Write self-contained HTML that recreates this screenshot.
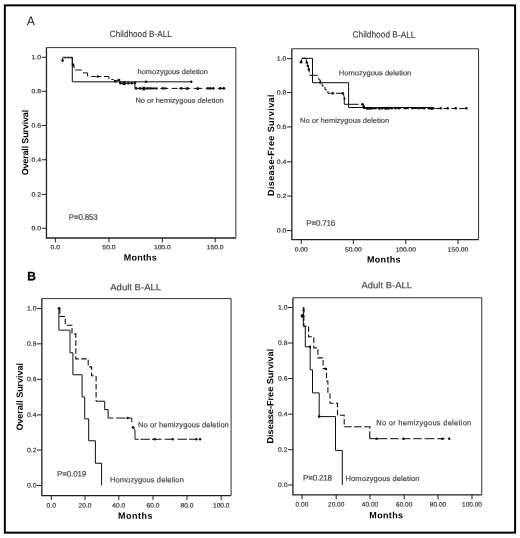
<!DOCTYPE html>
<html lang="en"><head><meta charset="utf-8"><title>Figure</title>
<style>html,body{margin:0;padding:0;background:#fff;}body{width:520px;height:538px;overflow:hidden;}svg{display:block;}</style>
</head><body>
<svg width="520" height="538" viewBox="0 0 520 538" font-family="'Liberation Sans', sans-serif">
<rect width="520" height="538" fill="#fff"/>
<defs><filter id="soft" x="0" y="0" width="520" height="538" filterUnits="userSpaceOnUse"><feGaussianBlur stdDeviation="0.45"/></filter></defs>
<g filter="url(#soft)">
<rect x="4.85" y="5.35" width="510.25" height="527.3" fill="none" stroke="#000" stroke-width="2"/>
<text x="26.7" y="25.25" font-size="12.7" fill="#222" textLength="8.2" lengthAdjust="spacingAndGlyphs" transform="rotate(0.04 26.7 25.25)">A</text>
<text x="27.2" y="280.2" font-size="12" fill="#000" font-weight="bold" stroke="#000" stroke-width="0.3" transform="rotate(0.04 27.2 280.2)">B</text>
<path d="M46.45 47.6V238.0H235.85" fill="none" stroke="#222" stroke-width="1.3"/>
<path d="M46.45 47.6H235.85V238.0" fill="none" stroke="#333" stroke-width="1"/>
<path d="M41.65 57.25H46.45" stroke="#222" stroke-width="1"/>
<text x="41.05" y="59.2" font-size="6.0" fill="#3a3a3a" text-anchor="end" textLength="9.63" lengthAdjust="spacingAndGlyphs" stroke="#3a3a3a" stroke-width="0.2" transform="rotate(0.04 41.05 59.2)">1.0</text>
<path d="M41.65 91.25H46.45" stroke="#222" stroke-width="1"/>
<text x="41.05" y="93.2" font-size="6.0" fill="#3a3a3a" text-anchor="end" textLength="9.63" lengthAdjust="spacingAndGlyphs" stroke="#3a3a3a" stroke-width="0.2" transform="rotate(0.04 41.05 93.2)">0.8</text>
<path d="M41.65 125.45H46.45" stroke="#222" stroke-width="1"/>
<text x="41.05" y="127.4" font-size="6.0" fill="#3a3a3a" text-anchor="end" textLength="9.63" lengthAdjust="spacingAndGlyphs" stroke="#3a3a3a" stroke-width="0.2" transform="rotate(0.04 41.05 127.4)">0.6</text>
<path d="M41.65 159.75H46.45" stroke="#222" stroke-width="1"/>
<text x="41.05" y="161.7" font-size="6.0" fill="#3a3a3a" text-anchor="end" textLength="9.63" lengthAdjust="spacingAndGlyphs" stroke="#3a3a3a" stroke-width="0.2" transform="rotate(0.04 41.05 161.7)">0.4</text>
<path d="M41.65 194.45H46.45" stroke="#222" stroke-width="1"/>
<text x="41.05" y="196.4" font-size="6.0" fill="#3a3a3a" text-anchor="end" textLength="9.63" lengthAdjust="spacingAndGlyphs" stroke="#3a3a3a" stroke-width="0.2" transform="rotate(0.04 41.05 196.4)">0.2</text>
<path d="M41.65 228.25H46.45" stroke="#222" stroke-width="1"/>
<text x="41.05" y="230.2" font-size="6.0" fill="#3a3a3a" text-anchor="end" textLength="9.63" lengthAdjust="spacingAndGlyphs" stroke="#3a3a3a" stroke-width="0.2" transform="rotate(0.04 41.05 230.2)">0.0</text>
<path d="M55.4 238.0V242.4" stroke="#222" stroke-width="1"/>
<text x="55.4" y="249.25" font-size="6.0" fill="#3a3a3a" text-anchor="middle" textLength="9.63" lengthAdjust="spacingAndGlyphs" stroke="#3a3a3a" stroke-width="0.2" transform="rotate(0.04 55.4 249.25)">0.0</text>
<path d="M109.0 238.0V242.4" stroke="#222" stroke-width="1"/>
<text x="109.0" y="249.25" font-size="6.0" fill="#3a3a3a" text-anchor="middle" textLength="13.23" lengthAdjust="spacingAndGlyphs" stroke="#3a3a3a" stroke-width="0.2" transform="rotate(0.04 109.0 249.25)">50.0</text>
<path d="M162.3 238.0V242.4" stroke="#222" stroke-width="1"/>
<text x="162.3" y="249.25" font-size="6.0" fill="#3a3a3a" text-anchor="middle" textLength="16.69" lengthAdjust="spacingAndGlyphs" stroke="#3a3a3a" stroke-width="0.2" transform="rotate(0.04 162.3 249.25)">100.0</text>
<path d="M215.2 238.0V242.4" stroke="#222" stroke-width="1"/>
<text x="215.2" y="249.25" font-size="6.0" fill="#3a3a3a" text-anchor="middle" textLength="16.69" lengthAdjust="spacingAndGlyphs" stroke="#3a3a3a" stroke-width="0.2" transform="rotate(0.04 215.2 249.25)">150.0</text>
<text x="109.8" y="36.9" font-size="9.1" fill="#3c3c3c" textLength="62" lengthAdjust="spacingAndGlyphs" stroke="#3c3c3c" stroke-width="0.12" transform="rotate(0.04 109.8 36.9)">Childhood B-ALL</text>
<text x="28.2" y="175.3" font-size="9" fill="#000" font-weight="bold" textLength="65.5" lengthAdjust="spacing" transform="rotate(-89.96 28.2 175.3)">Overall Survival</text>
<text x="123.8" y="260.4" font-size="9" fill="#000" font-weight="bold" textLength="33" lengthAdjust="spacing" transform="rotate(0.04 123.8 260.4)">Months</text>
<text x="68.8" y="219.8" font-size="8" fill="#3c3c3c" textLength="28.8" lengthAdjust="spacing" stroke="#3c3c3c" stroke-width="0.15" transform="rotate(0.04 68.8 219.8)">P=0.853</text>
<text x="137.6" y="74" font-size="7" fill="#454545" textLength="70.3" lengthAdjust="spacingAndGlyphs" stroke="#454545" stroke-width="0.18" transform="rotate(0.04 137.6 74)">homozygous deletion</text>
<text x="135.4" y="102.7" font-size="7" fill="#454545" textLength="88.3" lengthAdjust="spacingAndGlyphs" stroke="#454545" stroke-width="0.18" transform="rotate(0.04 135.4 102.7)">No or hemizygous deletion</text>
<g transform="translate(0.3 0.3)">
<path d="M62.3 57H72V81.5H191" fill="none" stroke="#111" stroke-width="1"/>
<path d="M62.3 60V57.6 M63.5 57.6H65.5 M67 57.6H69 M70 57.6H72" fill="none" stroke="#111" stroke-width="1"/>
<path d="M72 57V66" fill="none" stroke="#111" stroke-width="1"/>
<path d="M72.5 62.5L74 68" fill="none" stroke="#111" stroke-width="1"/>
<path d="M74.8 69.7H81.6 M82.5 72.6H87.3V76.2 M91 76.2H95.5 M96.5 76.2H101 M103.5 76.2H108.6V78.8 M111 79.2H113L115 81L118.5 79.2H119.5V82.9H134.6V88.1" fill="none" stroke="#111" stroke-width="1"/>
<path d="M134.6 88.1H157.5 M160 88.1H168 M171.3 88.1H177.5 M178.8 88.1H190 M193.5 88.1H202 M205.5 88.1H214 M217.5 88.1H225" fill="none" stroke="#111" stroke-width="1"/>
<circle cx="62.3" cy="60.3" r="1.3" fill="#111"/>
<circle cx="73" cy="65" r="1.2" fill="#111"/>
<circle cx="97.5" cy="76.2" r="1.3" fill="#111"/>
<circle cx="115" cy="81" r="1.4" fill="#111"/>
<circle cx="118.5" cy="79.6" r="1.2" fill="#111"/>
<circle cx="120.2" cy="82.9" r="1.3" fill="#111"/>
<circle cx="123.9" cy="82.9" r="2" fill="#111"/>
<circle cx="128" cy="82.9" r="1.3" fill="#111"/>
<circle cx="131.4" cy="82.9" r="1.2" fill="#111"/>
<circle cx="134.6" cy="82.5" r="1.4" fill="#111"/>
<circle cx="145.6" cy="81.5" r="1.2" fill="#111"/>
<circle cx="191" cy="81.5" r="1.2" fill="#111"/>
<circle cx="135.8" cy="88.1" r="1.4" fill="#111"/>
<circle cx="139.8" cy="88.1" r="1.3" fill="#111"/>
<circle cx="143.5" cy="88.1" r="2" fill="#111"/>
<circle cx="147.3" cy="88.1" r="1.4" fill="#111"/>
<circle cx="150.2" cy="88.1" r="1.3" fill="#111"/>
<circle cx="153" cy="88.1" r="1.2" fill="#111"/>
<circle cx="156" cy="88.1" r="1.2" fill="#111"/>
<circle cx="162.5" cy="88.1" r="1.3" fill="#111"/>
<circle cx="165" cy="88.1" r="1.1" fill="#111"/>
<circle cx="181" cy="88.1" r="1.3" fill="#111"/>
<circle cx="187" cy="88.1" r="1.5" fill="#111"/>
<circle cx="197.5" cy="88.1" r="1.5" fill="#111"/>
<circle cx="207.5" cy="88.1" r="1.3" fill="#111"/>
<circle cx="210" cy="88.1" r="1.3" fill="#111"/>
<circle cx="213" cy="88.1" r="1.3" fill="#111"/>
<circle cx="220" cy="88.1" r="1.4" fill="#111"/>
<circle cx="223.5" cy="88.1" r="1.3" fill="#111"/>
</g>
<path d="M291.85 48.75V239.65H478.55" fill="none" stroke="#222" stroke-width="1.3"/>
<path d="M291.85 48.75H478.55V239.65" fill="none" stroke="#333" stroke-width="1"/>
<path d="M287.05 58.6H291.85" stroke="#222" stroke-width="1"/>
<text x="286.45" y="60.55" font-size="6.0" fill="#3a3a3a" text-anchor="end" textLength="9.63" lengthAdjust="spacingAndGlyphs" stroke="#3a3a3a" stroke-width="0.2" transform="rotate(0.04 286.45 60.55)">1.0</text>
<path d="M287.05 92.6H291.85" stroke="#222" stroke-width="1"/>
<text x="286.45" y="94.55" font-size="6.0" fill="#3a3a3a" text-anchor="end" textLength="9.63" lengthAdjust="spacingAndGlyphs" stroke="#3a3a3a" stroke-width="0.2" transform="rotate(0.04 286.45 94.55)">0.8</text>
<path d="M287.05 126.9H291.85" stroke="#222" stroke-width="1"/>
<text x="286.45" y="128.85" font-size="6.0" fill="#3a3a3a" text-anchor="end" textLength="9.63" lengthAdjust="spacingAndGlyphs" stroke="#3a3a3a" stroke-width="0.2" transform="rotate(0.04 286.45 128.85)">0.6</text>
<path d="M287.05 161.8H291.85" stroke="#222" stroke-width="1"/>
<text x="286.45" y="163.75" font-size="6.0" fill="#3a3a3a" text-anchor="end" textLength="9.63" lengthAdjust="spacingAndGlyphs" stroke="#3a3a3a" stroke-width="0.2" transform="rotate(0.04 286.45 163.75)">0.4</text>
<path d="M287.05 196.1H291.85" stroke="#222" stroke-width="1"/>
<text x="286.45" y="198.05" font-size="6.0" fill="#3a3a3a" text-anchor="end" textLength="9.63" lengthAdjust="spacingAndGlyphs" stroke="#3a3a3a" stroke-width="0.2" transform="rotate(0.04 286.45 198.05)">0.2</text>
<path d="M287.05 230.6H291.85" stroke="#222" stroke-width="1"/>
<text x="286.45" y="232.55" font-size="6.0" fill="#3a3a3a" text-anchor="end" textLength="9.63" lengthAdjust="spacingAndGlyphs" stroke="#3a3a3a" stroke-width="0.2" transform="rotate(0.04 286.45 232.55)">0.0</text>
<path d="M301.3 239.65V244.05" stroke="#222" stroke-width="1"/>
<text x="301.3" y="251.6" font-size="6.0" fill="#3a3a3a" text-anchor="middle" textLength="13.23" lengthAdjust="spacingAndGlyphs" stroke="#3a3a3a" stroke-width="0.2" transform="rotate(0.04 301.3 251.6)">0.00</text>
<path d="M353.3 239.65V244.05" stroke="#222" stroke-width="1"/>
<text x="353.3" y="251.6" font-size="6.0" fill="#3a3a3a" text-anchor="middle" textLength="16.69" lengthAdjust="spacingAndGlyphs" stroke="#3a3a3a" stroke-width="0.2" transform="rotate(0.04 353.3 251.6)">50.00</text>
<path d="M405.8 239.65V244.05" stroke="#222" stroke-width="1"/>
<text x="405.8" y="251.6" font-size="6.0" fill="#3a3a3a" text-anchor="middle" textLength="20.35" lengthAdjust="spacingAndGlyphs" stroke="#3a3a3a" stroke-width="0.2" transform="rotate(0.04 405.8 251.6)">100.00</text>
<path d="M458 239.65V244.05" stroke="#222" stroke-width="1"/>
<text x="458" y="251.6" font-size="6.0" fill="#3a3a3a" text-anchor="middle" textLength="20.35" lengthAdjust="spacingAndGlyphs" stroke="#3a3a3a" stroke-width="0.2" transform="rotate(0.04 458 251.6)">150.00</text>
<text x="352.5" y="37.6" font-size="9.1" fill="#3c3c3c" textLength="63" lengthAdjust="spacingAndGlyphs" stroke="#3c3c3c" stroke-width="0.12" transform="rotate(0.04 352.5 37.6)">Childhood B-ALL</text>
<text x="273.9" y="196" font-size="9" fill="#000" font-weight="bold" textLength="101.5" lengthAdjust="spacing" transform="rotate(-89.96 273.9 196)">Disease-Free Survival</text>
<text x="367" y="262.4" font-size="9" fill="#000" font-weight="bold" textLength="33.5" lengthAdjust="spacing" transform="rotate(0.04 367 262.4)">Months</text>
<text x="306.3" y="225.8" font-size="8" fill="#3c3c3c" textLength="29" lengthAdjust="spacing" stroke="#3c3c3c" stroke-width="0.15" transform="rotate(0.04 306.3 225.8)">P=0.716</text>
<text x="338.8" y="75.2" font-size="7" fill="#454545" textLength="72.5" lengthAdjust="spacingAndGlyphs" stroke="#454545" stroke-width="0.18" transform="rotate(0.04 338.8 75.2)">Homozygous deletion</text>
<text x="300" y="122.7" font-size="7" fill="#454545" textLength="89.2" lengthAdjust="spacingAndGlyphs" stroke="#454545" stroke-width="0.18" transform="rotate(0.04 300 122.7)">No or hemizygous deletion</text>
<g transform="translate(0.3 0.5)">
<path d="M301.6 57.8H312.2V82.2H348.3V107H433" fill="none" stroke="#111" stroke-width="1"/>
<path d="M300.7 61.5L302 57.8H305.5L306.5 62L308.5 68L309 72" fill="none" stroke="#111" stroke-width="1"/>
<path d="M309 74.8H317.3 M318.5 77.2V79.4H320V81.7 M321.8 83V85.5H323.5 M324.7 86.5V89.3H326.5 M327.6 90.5V92.8H330.5 M335.5 92.8H342.4 M343 93L344 97V103.8H358.3 M363 103.8V108" fill="none" stroke="#111" stroke-width="1"/>
<path d="M363 108H467" fill="none" stroke="#111" stroke-width="1.1" stroke-dasharray="5.5 2.5"/>
<circle cx="300.7" cy="61.5" r="1.5" fill="#111"/>
<circle cx="306.5" cy="62" r="1.2" fill="#111"/>
<circle cx="307.5" cy="65.5" r="1.2" fill="#111"/>
<circle cx="308.5" cy="69" r="1.2" fill="#111"/>
<circle cx="320" cy="82" r="1.2" fill="#111"/>
<circle cx="332.4" cy="92.8" r="1.4" fill="#111"/>
<circle cx="342.4" cy="92.8" r="1.3" fill="#111"/>
<circle cx="344.2" cy="98" r="1.1" fill="#111"/>
<circle cx="362.2" cy="103.8" r="1.4" fill="#111"/>
<circle cx="363.5" cy="106" r="1.2" fill="#111"/>
<circle cx="367" cy="107.8" r="1.5" fill="#111"/>
<circle cx="369.5" cy="107.8" r="1.6" fill="#111"/>
<circle cx="372" cy="107.8" r="1.4" fill="#111"/>
<circle cx="375" cy="107.8" r="1.3" fill="#111"/>
<circle cx="379" cy="107.8" r="1.5" fill="#111"/>
<circle cx="382" cy="107.8" r="1.3" fill="#111"/>
<circle cx="385.5" cy="107.8" r="1.6" fill="#111"/>
<circle cx="388" cy="107.8" r="1.5" fill="#111"/>
<circle cx="391.5" cy="107.8" r="1.3" fill="#111"/>
<circle cx="395" cy="107.8" r="1.3" fill="#111"/>
<circle cx="399" cy="107.8" r="1.2" fill="#111"/>
<circle cx="405" cy="107.8" r="1.3" fill="#111"/>
<circle cx="412" cy="107.8" r="1.2" fill="#111"/>
<circle cx="418" cy="107.8" r="1.2" fill="#111"/>
<circle cx="424" cy="107.8" r="1.3" fill="#111"/>
<circle cx="429" cy="107.8" r="1.4" fill="#111"/>
<circle cx="431.5" cy="107.8" r="1.6" fill="#111"/>
<circle cx="433" cy="107.8" r="1.3" fill="#111"/>
<circle cx="440.3" cy="107.8" r="1.3" fill="#111"/>
<circle cx="447.3" cy="107.8" r="1.3" fill="#111"/>
<circle cx="455.4" cy="107.8" r="1.3" fill="#111"/>
<circle cx="466" cy="107.8" r="1.3" fill="#111"/>
</g>
<path d="M41.85 298.6V495.6H231.1" fill="none" stroke="#222" stroke-width="1.3"/>
<path d="M41.85 298.6H231.1V495.6" fill="none" stroke="#333" stroke-width="1"/>
<path d="M37.05 308.5H41.85" stroke="#222" stroke-width="1"/>
<text x="36.45" y="310.56" font-size="6.3" fill="#3a3a3a" text-anchor="end" textLength="9.45" lengthAdjust="spacingAndGlyphs" stroke="#3a3a3a" stroke-width="0.2" transform="rotate(0.04 36.45 310.56)">1.0</text>
<path d="M37.05 343.8H41.85" stroke="#222" stroke-width="1"/>
<text x="36.45" y="345.86" font-size="6.3" fill="#3a3a3a" text-anchor="end" textLength="9.45" lengthAdjust="spacingAndGlyphs" stroke="#3a3a3a" stroke-width="0.2" transform="rotate(0.04 36.45 345.86)">0.8</text>
<path d="M37.05 379.3H41.85" stroke="#222" stroke-width="1"/>
<text x="36.45" y="381.36" font-size="6.3" fill="#3a3a3a" text-anchor="end" textLength="9.45" lengthAdjust="spacingAndGlyphs" stroke="#3a3a3a" stroke-width="0.2" transform="rotate(0.04 36.45 381.36)">0.6</text>
<path d="M37.05 414.9H41.85" stroke="#222" stroke-width="1"/>
<text x="36.45" y="416.96" font-size="6.3" fill="#3a3a3a" text-anchor="end" textLength="9.45" lengthAdjust="spacingAndGlyphs" stroke="#3a3a3a" stroke-width="0.2" transform="rotate(0.04 36.45 416.96)">0.4</text>
<path d="M37.05 450.1H41.85" stroke="#222" stroke-width="1"/>
<text x="36.45" y="452.16" font-size="6.3" fill="#3a3a3a" text-anchor="end" textLength="9.45" lengthAdjust="spacingAndGlyphs" stroke="#3a3a3a" stroke-width="0.2" transform="rotate(0.04 36.45 452.16)">0.2</text>
<path d="M37.05 485.5H41.85" stroke="#222" stroke-width="1"/>
<text x="36.45" y="487.56" font-size="6.3" fill="#3a3a3a" text-anchor="end" textLength="9.45" lengthAdjust="spacingAndGlyphs" stroke="#3a3a3a" stroke-width="0.2" transform="rotate(0.04 36.45 487.56)">0.0</text>
<path d="M51.3 495.6V500.0" stroke="#222" stroke-width="1"/>
<text x="51.3" y="507.56" font-size="6.3" fill="#3a3a3a" text-anchor="middle" textLength="9.45" lengthAdjust="spacingAndGlyphs" stroke="#3a3a3a" stroke-width="0.2" transform="rotate(0.04 51.3 507.56)">0.0</text>
<path d="M85 495.6V500.0" stroke="#222" stroke-width="1"/>
<text x="85" y="507.56" font-size="6.3" fill="#3a3a3a" text-anchor="middle" textLength="12.98" lengthAdjust="spacingAndGlyphs" stroke="#3a3a3a" stroke-width="0.2" transform="rotate(0.04 85 507.56)">20.0</text>
<path d="M118.8 495.6V500.0" stroke="#222" stroke-width="1"/>
<text x="118.8" y="507.56" font-size="6.3" fill="#3a3a3a" text-anchor="middle" textLength="12.98" lengthAdjust="spacingAndGlyphs" stroke="#3a3a3a" stroke-width="0.2" transform="rotate(0.04 118.8 507.56)">40.0</text>
<path d="M153 495.6V500.0" stroke="#222" stroke-width="1"/>
<text x="153" y="507.56" font-size="6.3" fill="#3a3a3a" text-anchor="middle" textLength="12.98" lengthAdjust="spacingAndGlyphs" stroke="#3a3a3a" stroke-width="0.2" transform="rotate(0.04 153 507.56)">60.0</text>
<path d="M187 495.6V500.0" stroke="#222" stroke-width="1"/>
<text x="187" y="507.56" font-size="6.3" fill="#3a3a3a" text-anchor="middle" textLength="12.98" lengthAdjust="spacingAndGlyphs" stroke="#3a3a3a" stroke-width="0.2" transform="rotate(0.04 187 507.56)">80.0</text>
<path d="M221.2 495.6V500.0" stroke="#222" stroke-width="1"/>
<text x="221.2" y="507.56" font-size="6.3" fill="#3a3a3a" text-anchor="middle" textLength="16.38" lengthAdjust="spacingAndGlyphs" stroke="#3a3a3a" stroke-width="0.2" transform="rotate(0.04 221.2 507.56)">100.0</text>
<text x="110.2" y="290.3" font-size="9.1" fill="#3c3c3c" textLength="51" lengthAdjust="spacingAndGlyphs" stroke="#3c3c3c" stroke-width="0.12" transform="rotate(0.04 110.2 290.3)">Adult B-ALL</text>
<text x="22.8" y="430.6" font-size="9" fill="#000" font-weight="bold" textLength="67.6" lengthAdjust="spacing" transform="rotate(-89.96 22.8 430.6)">Overall Survival</text>
<text x="118" y="518.8" font-size="9" fill="#000" font-weight="bold" textLength="34.5" lengthAdjust="spacing" transform="rotate(0.04 118 518.8)">Months</text>
<text x="57" y="476.6" font-size="8" fill="#3c3c3c" textLength="29.2" lengthAdjust="spacing" stroke="#3c3c3c" stroke-width="0.15" transform="rotate(0.04 57 476.6)">P=0.019</text>
<text x="138" y="427.2" font-size="7.5" fill="#454545" textLength="90.8" lengthAdjust="spacing" stroke="#454545" stroke-width="0.18" transform="rotate(0.04 138 427.2)">No or hemizygous deletion</text>
<text x="110" y="482.2" font-size="7.5" fill="#454545" textLength="73.8" lengthAdjust="spacing" stroke="#454545" stroke-width="0.18" transform="rotate(0.04 110 482.2)">Homozygous deletion</text>
<g transform="translate(0.2 0.25)">
<path d="M58.7 307.9V329.9H69.8V352.5H72.7V374.5H81.9V396.7H84.5V418.6H88.5V440.5H95.2V463H101.4V485.1" fill="none" stroke="#111" stroke-width="1"/>
<path d="M59.6 308V316.3H65V325H71.8V333.6H75.6V358.6H88V366.6H91.4V375.5H95.9V401" fill="none" stroke="#111" stroke-width="1.1" stroke-dasharray="5.5 2.5"/>
<path d="M95.9 401H104.5V409.3H107.9V417.8H113.1 M115.9 417.8H125.4 M126.5 417.8H131.6V422 M132.3 426L134.8 430V439H138.5 M140.2 439H149.7 M151.8 439H161.3 M164.5 439H174 M177.2 439H186.7 M188.8 439H197" fill="none" stroke="#111" stroke-width="1"/>
<circle cx="58.9" cy="308" r="1.3" fill="#111"/>
<circle cx="127.5" cy="417.8" r="1.2" fill="#111"/>
<circle cx="132.8" cy="427.3" r="1.3" fill="#111"/>
<circle cx="154.5" cy="439" r="1.3" fill="#111"/>
<circle cx="172.5" cy="439" r="1.2" fill="#111"/>
<circle cx="196.2" cy="439" r="1.2" fill="#111"/>
<circle cx="199.9" cy="439" r="1.2" fill="#111"/>
</g>
<path d="M292.9 297.75V494.9H481.75" fill="none" stroke="#222" stroke-width="1.3"/>
<path d="M292.9 297.75H481.75V494.9" fill="none" stroke="#333" stroke-width="1"/>
<path d="M288.1 307.5H292.9" stroke="#222" stroke-width="1"/>
<text x="287.5" y="309.56" font-size="6.3" fill="#3a3a3a" text-anchor="end" textLength="9.45" lengthAdjust="spacingAndGlyphs" stroke="#3a3a3a" stroke-width="0.2" transform="rotate(0.04 287.5 309.56)">1.0</text>
<path d="M288.1 343.0H292.9" stroke="#222" stroke-width="1"/>
<text x="287.5" y="345.06" font-size="6.3" fill="#3a3a3a" text-anchor="end" textLength="9.45" lengthAdjust="spacingAndGlyphs" stroke="#3a3a3a" stroke-width="0.2" transform="rotate(0.04 287.5 345.06)">0.8</text>
<path d="M288.1 378.5H292.9" stroke="#222" stroke-width="1"/>
<text x="287.5" y="380.56" font-size="6.3" fill="#3a3a3a" text-anchor="end" textLength="9.45" lengthAdjust="spacingAndGlyphs" stroke="#3a3a3a" stroke-width="0.2" transform="rotate(0.04 287.5 380.56)">0.6</text>
<path d="M288.1 414.2H292.9" stroke="#222" stroke-width="1"/>
<text x="287.5" y="416.26" font-size="6.3" fill="#3a3a3a" text-anchor="end" textLength="9.45" lengthAdjust="spacingAndGlyphs" stroke="#3a3a3a" stroke-width="0.2" transform="rotate(0.04 287.5 416.26)">0.4</text>
<path d="M288.1 449.7H292.9" stroke="#222" stroke-width="1"/>
<text x="287.5" y="451.76" font-size="6.3" fill="#3a3a3a" text-anchor="end" textLength="9.45" lengthAdjust="spacingAndGlyphs" stroke="#3a3a3a" stroke-width="0.2" transform="rotate(0.04 287.5 451.76)">0.2</text>
<path d="M288.1 485.0H292.9" stroke="#222" stroke-width="1"/>
<text x="287.5" y="487.06" font-size="6.3" fill="#3a3a3a" text-anchor="end" textLength="9.45" lengthAdjust="spacingAndGlyphs" stroke="#3a3a3a" stroke-width="0.2" transform="rotate(0.04 287.5 487.06)">0.0</text>
<path d="M302 494.9V499.3" stroke="#222" stroke-width="1"/>
<text x="302" y="506.56" font-size="6.3" fill="#3a3a3a" text-anchor="middle" textLength="12.98" lengthAdjust="spacingAndGlyphs" stroke="#3a3a3a" stroke-width="0.2" transform="rotate(0.04 302 506.56)">0.00</text>
<path d="M336.2 494.9V499.3" stroke="#222" stroke-width="1"/>
<text x="336.2" y="506.56" font-size="6.3" fill="#3a3a3a" text-anchor="middle" textLength="16.38" lengthAdjust="spacingAndGlyphs" stroke="#3a3a3a" stroke-width="0.2" transform="rotate(0.04 336.2 506.56)">20.00</text>
<path d="M370 494.9V499.3" stroke="#222" stroke-width="1"/>
<text x="370" y="506.56" font-size="6.3" fill="#3a3a3a" text-anchor="middle" textLength="16.38" lengthAdjust="spacingAndGlyphs" stroke="#3a3a3a" stroke-width="0.2" transform="rotate(0.04 370 506.56)">40.00</text>
<path d="M404.2 494.9V499.3" stroke="#222" stroke-width="1"/>
<text x="404.2" y="506.56" font-size="6.3" fill="#3a3a3a" text-anchor="middle" textLength="16.38" lengthAdjust="spacingAndGlyphs" stroke="#3a3a3a" stroke-width="0.2" transform="rotate(0.04 404.2 506.56)">60.00</text>
<path d="M438 494.9V499.3" stroke="#222" stroke-width="1"/>
<text x="438" y="506.56" font-size="6.3" fill="#3a3a3a" text-anchor="middle" textLength="16.38" lengthAdjust="spacingAndGlyphs" stroke="#3a3a3a" stroke-width="0.2" transform="rotate(0.04 438 506.56)">80.00</text>
<path d="M472 494.9V499.3" stroke="#222" stroke-width="1"/>
<text x="472" y="506.56" font-size="6.3" fill="#3a3a3a" text-anchor="middle" textLength="19.97" lengthAdjust="spacingAndGlyphs" stroke="#3a3a3a" stroke-width="0.2" transform="rotate(0.04 472 506.56)">100.00</text>
<text x="361.5" y="288.3" font-size="9.1" fill="#3c3c3c" textLength="50.6" lengthAdjust="spacingAndGlyphs" stroke="#3c3c3c" stroke-width="0.12" transform="rotate(0.04 361.5 288.3)">Adult B-ALL</text>
<text x="273.2" y="443.5" font-size="9" fill="#000" font-weight="bold" textLength="94.7" lengthAdjust="spacing" transform="rotate(-89.96 273.2 443.5)">Disease-Free Survival</text>
<text x="369.3" y="518.3" font-size="9" fill="#000" font-weight="bold" textLength="33.7" lengthAdjust="spacing" transform="rotate(0.04 369.3 518.3)">Months</text>
<text x="303" y="480.4" font-size="8" fill="#3c3c3c" textLength="29" lengthAdjust="spacing" stroke="#3c3c3c" stroke-width="0.15" transform="rotate(0.04 303 480.4)">P=0.218</text>
<text x="376.3" y="425.2" font-size="7.5" fill="#454545" textLength="95" lengthAdjust="spacing" stroke="#454545" stroke-width="0.18" transform="rotate(0.04 376.3 425.2)">No or hemizygous deletion</text>
<text x="345.5" y="481" font-size="7.5" fill="#454545" textLength="74" lengthAdjust="spacing" stroke="#454545" stroke-width="0.18" transform="rotate(0.04 345.5 481)">Homozygous deletion</text>
<g transform="translate(0.3 0.3)">
<path d="M303 306.7V325.9H305V346.5H309.9V369.5H312.2V392.6H318.9V416.3H335.2V450.1H342V484.6" fill="none" stroke="#111" stroke-width="1"/>
<path d="M303.6 307V325.9H308.3V336.5H313.5V347.6H317.6V357.6H322.8V368.2H326.2V380.7H327.6V392H329.7V403H337.2V414.9H343.9V426.5" fill="none" stroke="#111" stroke-width="1.1" stroke-dasharray="5.5 2.5"/>
<path d="M343.9 426.5H369.5V438.4" fill="none" stroke="#111" stroke-width="1.1" stroke-dasharray="7.5 2.5"/>
<path d="M369.5 438.4H387 M389.8 438.4H398.5 M401.3 438.4H410 M412.9 438.4H421.5 M424.4 438.4H434 M437 438.4H444.6" fill="none" stroke="#111" stroke-width="1"/>
<circle cx="302.2" cy="315.5" r="1.9" fill="#111"/>
<circle cx="303.3" cy="310" r="1.1" fill="#111"/>
<circle cx="309.6" cy="346.5" r="1.2" fill="#111"/>
<circle cx="325" cy="368.4" r="1.2" fill="#111"/>
<circle cx="318.9" cy="416.3" r="1.3" fill="#111"/>
<circle cx="376.3" cy="438.4" r="1.3" fill="#111"/>
<circle cx="403.3" cy="438.4" r="1.3" fill="#111"/>
<circle cx="442" cy="438.4" r="1.3" fill="#111"/>
<circle cx="448.9" cy="438.4" r="1.2" fill="#111"/>
</g>
</g>
</svg>
</body></html>
